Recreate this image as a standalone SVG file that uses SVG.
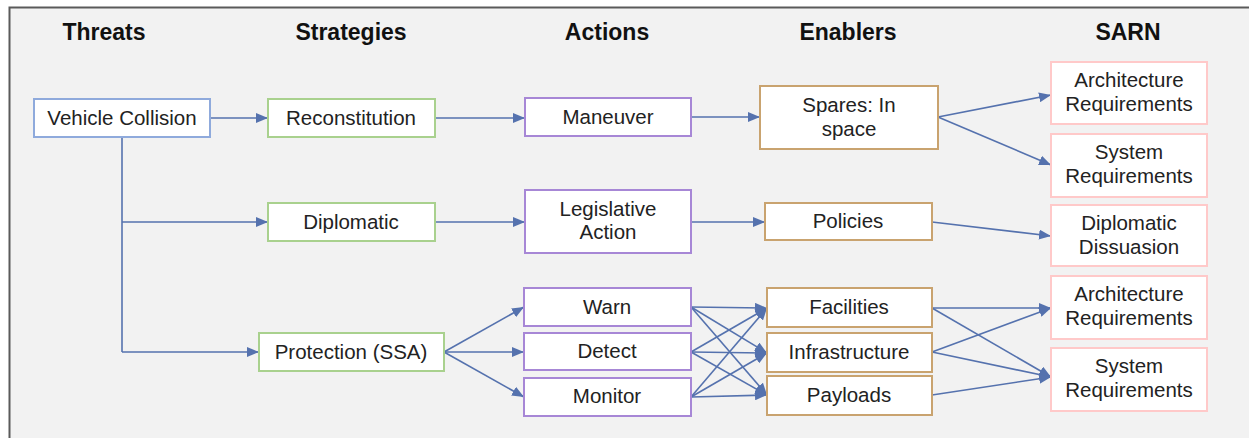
<svg xmlns="http://www.w3.org/2000/svg" width="1249" height="438" viewBox="0 0 1249 438">
  <style>
    .hdr { font-family: "Liberation Sans", Arial, sans-serif; font-size: 23px; font-weight: bold; fill: #111; text-anchor: middle; }
    .lbl { font-family: "Liberation Sans", Arial, sans-serif; font-size: 20.5px; fill: #222; text-anchor: middle; }
    .box { fill: #ffffff; stroke-width: 2; }
    .threat { stroke: #8faadc; }
    .strat { stroke: #a9d18e; }
    .act { stroke: #a787d6; }
    .enab { stroke: #c9a36f; }
    .sarn { stroke: #ffc9c9; }
    .edge { fill: none; stroke: #5572ae; stroke-width: 1.6; }
    .arr { marker-end: url(#head); }
  </style>
  <defs>
    <marker id="head" viewBox="0 0 12 10" refX="12" refY="5" markerWidth="12" markerHeight="10" markerUnits="userSpaceOnUse" orient="auto">
      <path d="M0,0 L12,5 L0,10 z" fill="#5572ae"/>
    </marker>
  </defs>

  <!-- canvas and frame -->
  <rect x="0" y="0" width="1249" height="438" fill="#ffffff"/>
  <rect x="9.5" y="7.5" width="1260" height="450" fill="#f2f2f2" stroke="#5a5a5a" stroke-width="2"/>

  <!-- column headers -->
  <g id="headers">
    <text class="hdr" x="104" y="40">Threats</text>
    <text class="hdr" x="351" y="40">Strategies</text>
    <text class="hdr" x="607" y="40">Actions</text>
    <text class="hdr" x="848" y="40">Enablers</text>
    <text class="hdr" x="1128" y="40">SARN</text>
  </g>

  <!-- connectors -->
  <g id="connectors">
    <path class="edge arr" d="M210,118 L268,118"/>
    <path class="edge" d="M122,137 L122,352"/>
    <path class="edge arr" d="M122,222 L268,222"/>
    <path class="edge arr" d="M122,352 L259,352"/>
    <path class="edge arr" d="M435,118 L525,118"/>
    <path class="edge arr" d="M435,222 L525,222"/>
    <path class="edge arr" d="M444,352 L524,307"/>
    <path class="edge arr" d="M444,352 L524,352"/>
    <path class="edge arr" d="M444,352 L524,397"/>
    <path class="edge arr" d="M691,117 L760,117"/>
    <path class="edge arr" d="M691,222 L765,222"/>
    <path class="edge arr" d="M938,117 L1051,95"/>
    <path class="edge arr" d="M938,117 L1051,165"/>
    <path class="edge arr" d="M932,222 L1051,236"/>
    <!-- actions to enablers, all pairs -->
    <path class="edge arr" d="M691,307 L767,308"/>
    <path class="edge arr" d="M691,307 L767,353"/>
    <path class="edge arr" d="M691,307 L767,395"/>
    <path class="edge arr" d="M691,352 L767,308"/>
    <path class="edge arr" d="M691,352 L767,353"/>
    <path class="edge arr" d="M691,352 L767,395"/>
    <path class="edge arr" d="M691,397 L767,308"/>
    <path class="edge arr" d="M691,397 L767,353"/>
    <path class="edge arr" d="M691,397 L767,395"/>
    <!-- enablers to SARN -->
    <path class="edge arr" d="M932,308 L1051,308"/>
    <path class="edge arr" d="M932,308 L1051,377"/>
    <path class="edge arr" d="M932,352 L1051,308"/>
    <path class="edge arr" d="M932,352 L1051,377"/>
    <path class="edge arr" d="M932,395 L1051,377"/>
  </g>

  <!-- threats -->
  <g id="vehicle-collision">
    <rect class="box threat" x="34" y="99" width="176" height="38"/>
    <text class="lbl" x="122" y="125">Vehicle Collision</text>
  </g>

  <!-- strategies -->
  <g id="reconstitution">
    <rect class="box strat" x="268" y="99" width="167" height="38"/>
    <text class="lbl" x="351" y="125">Reconstitution</text>
  </g>
  <g id="diplomatic">
    <rect class="box strat" x="268" y="203" width="167" height="38"/>
    <text class="lbl" x="351" y="229">Diplomatic</text>
  </g>
  <g id="protection">
    <rect class="box strat" x="259" y="333" width="185" height="38"/>
    <text class="lbl" x="351" y="359">Protection (SSA)</text>
  </g>

  <!-- actions -->
  <g id="maneuver">
    <rect class="box act" x="525" y="98" width="166" height="38"/>
    <text class="lbl" x="608" y="124">Maneuver</text>
  </g>
  <g id="legislative-action">
    <rect class="box act" x="525" y="190" width="166" height="63"/>
    <text class="lbl" x="608" y="216">Legislative</text>
    <text class="lbl" x="608" y="239">Action</text>
  </g>
  <g id="warn">
    <rect class="box act" x="524" y="288" width="167" height="38"/>
    <text class="lbl" x="607" y="314">Warn</text>
  </g>
  <g id="detect">
    <rect class="box act" x="524" y="333" width="167" height="37"/>
    <text class="lbl" x="607" y="358">Detect</text>
  </g>
  <g id="monitor">
    <rect class="box act" x="524" y="378" width="167" height="38"/>
    <text class="lbl" x="607" y="403">Monitor</text>
  </g>

  <!-- enablers -->
  <g id="spares-in-space">
    <rect class="box enab" x="760" y="86" width="178" height="63"/>
    <text class="lbl" x="849" y="112">Spares: In</text>
    <text class="lbl" x="849" y="136">space</text>
  </g>
  <g id="policies">
    <rect class="box enab" x="765" y="203" width="167" height="37"/>
    <text class="lbl" x="848" y="228">Policies</text>
  </g>
  <g id="facilities">
    <rect class="box enab" x="767" y="288" width="165" height="39"/>
    <text class="lbl" x="849" y="314">Facilities</text>
  </g>
  <g id="infrastructure">
    <rect class="box enab" x="767" y="333" width="165" height="39"/>
    <text class="lbl" x="849" y="359">Infrastructure</text>
  </g>
  <g id="payloads">
    <rect class="box enab" x="767" y="376" width="165" height="39"/>
    <text class="lbl" x="849" y="402">Payloads</text>
  </g>

  <!-- SARN -->
  <g id="architecture-requirements-1">
    <rect class="box sarn" x="1051" y="62" width="156" height="62"/>
    <text class="lbl" x="1129" y="87">Architecture</text>
    <text class="lbl" x="1129" y="111">Requirements</text>
  </g>
  <g id="system-requirements-1">
    <rect class="box sarn" x="1051" y="134" width="156" height="63"/>
    <text class="lbl" x="1129" y="159">System</text>
    <text class="lbl" x="1129" y="183">Requirements</text>
  </g>
  <g id="diplomatic-dissuasion">
    <rect class="box sarn" x="1051" y="205" width="156" height="61"/>
    <text class="lbl" x="1129" y="230">Diplomatic</text>
    <text class="lbl" x="1129" y="254">Dissuasion</text>
  </g>
  <g id="architecture-requirements-2">
    <rect class="box sarn" x="1051" y="276" width="156" height="63"/>
    <text class="lbl" x="1129" y="301">Architecture</text>
    <text class="lbl" x="1129" y="325">Requirements</text>
  </g>
  <g id="system-requirements-2">
    <rect class="box sarn" x="1051" y="348" width="156" height="63"/>
    <text class="lbl" x="1129" y="373">System</text>
    <text class="lbl" x="1129" y="397">Requirements</text>
  </g>
</svg>
